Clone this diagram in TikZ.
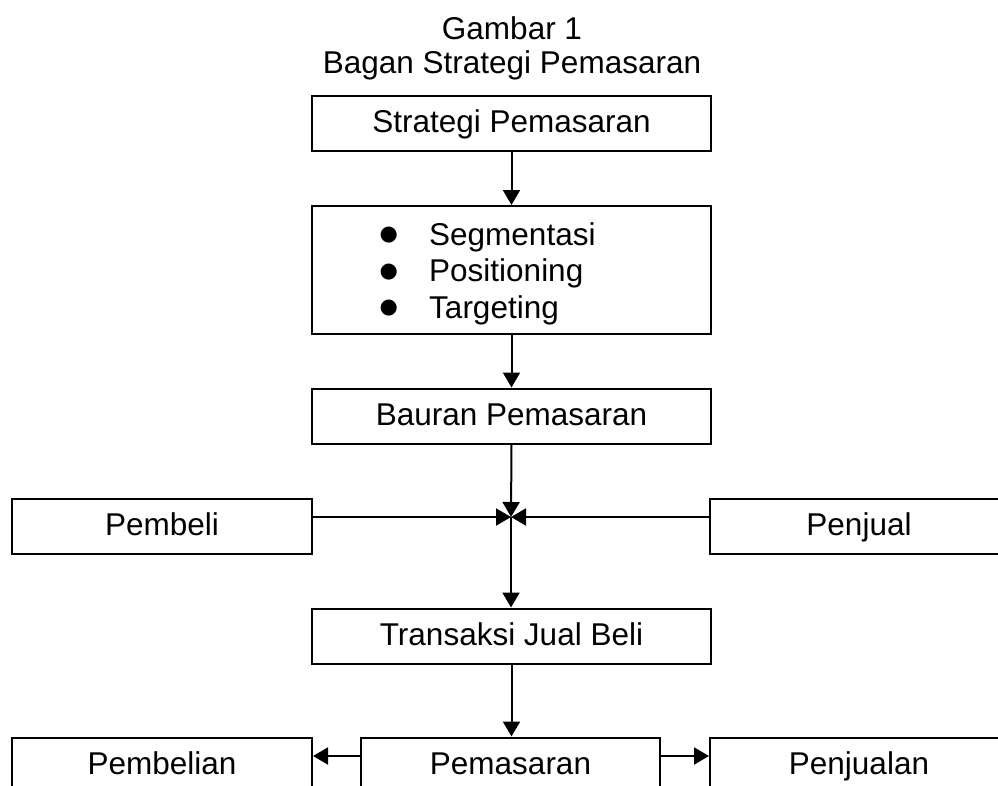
\documentclass[tikz,border=0pt]{standalone}
\usepackage{fontspec}
\setmainfont{Liberation Sans}
\newfontfamily\symfont{DejaVu Sans}
\usetikzlibrary{arrows.meta}
\newcommand{\bigbul}{\makebox[49.5pt][l]{\symfont\fontsize{21}{21}\selectfont\raisebox{4.5pt}{●}}}
\begin{document}
\begin{tikzpicture}[x=1pt,y=-1pt,
  lbl/.style={font=\fontsize{31.5}{36}\selectfont, inner sep=0pt},
  box/.style={draw, line width=2pt, inner sep=0pt, text height=22.5pt, text depth=4pt,
              font=\fontsize{31.5}{36}\selectfont, minimum height=55pt},
  arr/.style={line width=2pt, -{Triangle[length=15pt,width=17pt]}}]
\useasboundingbox (0,0) rectangle (998,785);
\clip (0,0) rectangle (998,785);
% title
\node[lbl, anchor=base] (t1) at (512,39) {Gambar 1};
\node[lbl, anchor=base] (t2) at (512,73) {Bagan Strategi Pemasaran};
% column boxes
\node[box, minimum width=399pt] (sp) at (511.5,123.5) {Strategi Pemasaran};
\node[draw, line width=2pt, minimum width=399pt, minimum height=128pt, inner sep=0pt] (stp) at (511.5,270) {};
\node[lbl, anchor=base west] (s1) at (379.5,245) {\bigbul Segmentasi};
\node[lbl, anchor=base west] (s2) at (379.5,281.5) {\bigbul Positioning};
\node[lbl, anchor=base west] (s3) at (379.5,318) {\bigbul Targeting};
\node[box, minimum width=399pt] (bp) at (511.5,416) {Bauran Pemasaran};
\node[box, minimum width=300pt] (pembeli) at (162,526.5) {Pembeli};
\node[box, minimum width=298pt] (penjual) at (859,526.5) {Penjual};
\node[box, minimum width=399pt] (tjb) at (511.5,636) {Transaksi Jual Beli};
\node[box, minimum width=300pt] (pembelian) at (162,765) {Pembelian};
\node[box, minimum width=299pt] (pms) at (510.5,765) {Pemasaran};
\node[box, minimum width=298pt] (penjualan) at (859,765) {Penjualan};
\coordinate (j) at (511,517);
% connectors
\draw[arr] (sp.south) -- (stp.north);
\draw[arr] (stp.south) -- (bp.north);
\draw[arr] (bp.south) -- (j);
\draw[arr] (j -| pembeli.east) -- (j);
\draw[arr] (j -| penjual.west) -- (j);
\draw[arr] (j) -- (j |- tjb.north);
\draw[arr] (tjb.south) -- (tjb.south |- pms.north);
\draw[arr] ([yshift=9pt]pms.west) -- ([yshift=9pt]pembelian.east);
\draw[arr] ([yshift=9pt]pms.east) -- ([yshift=9pt]penjualan.west);
\end{tikzpicture}
\end{document}
